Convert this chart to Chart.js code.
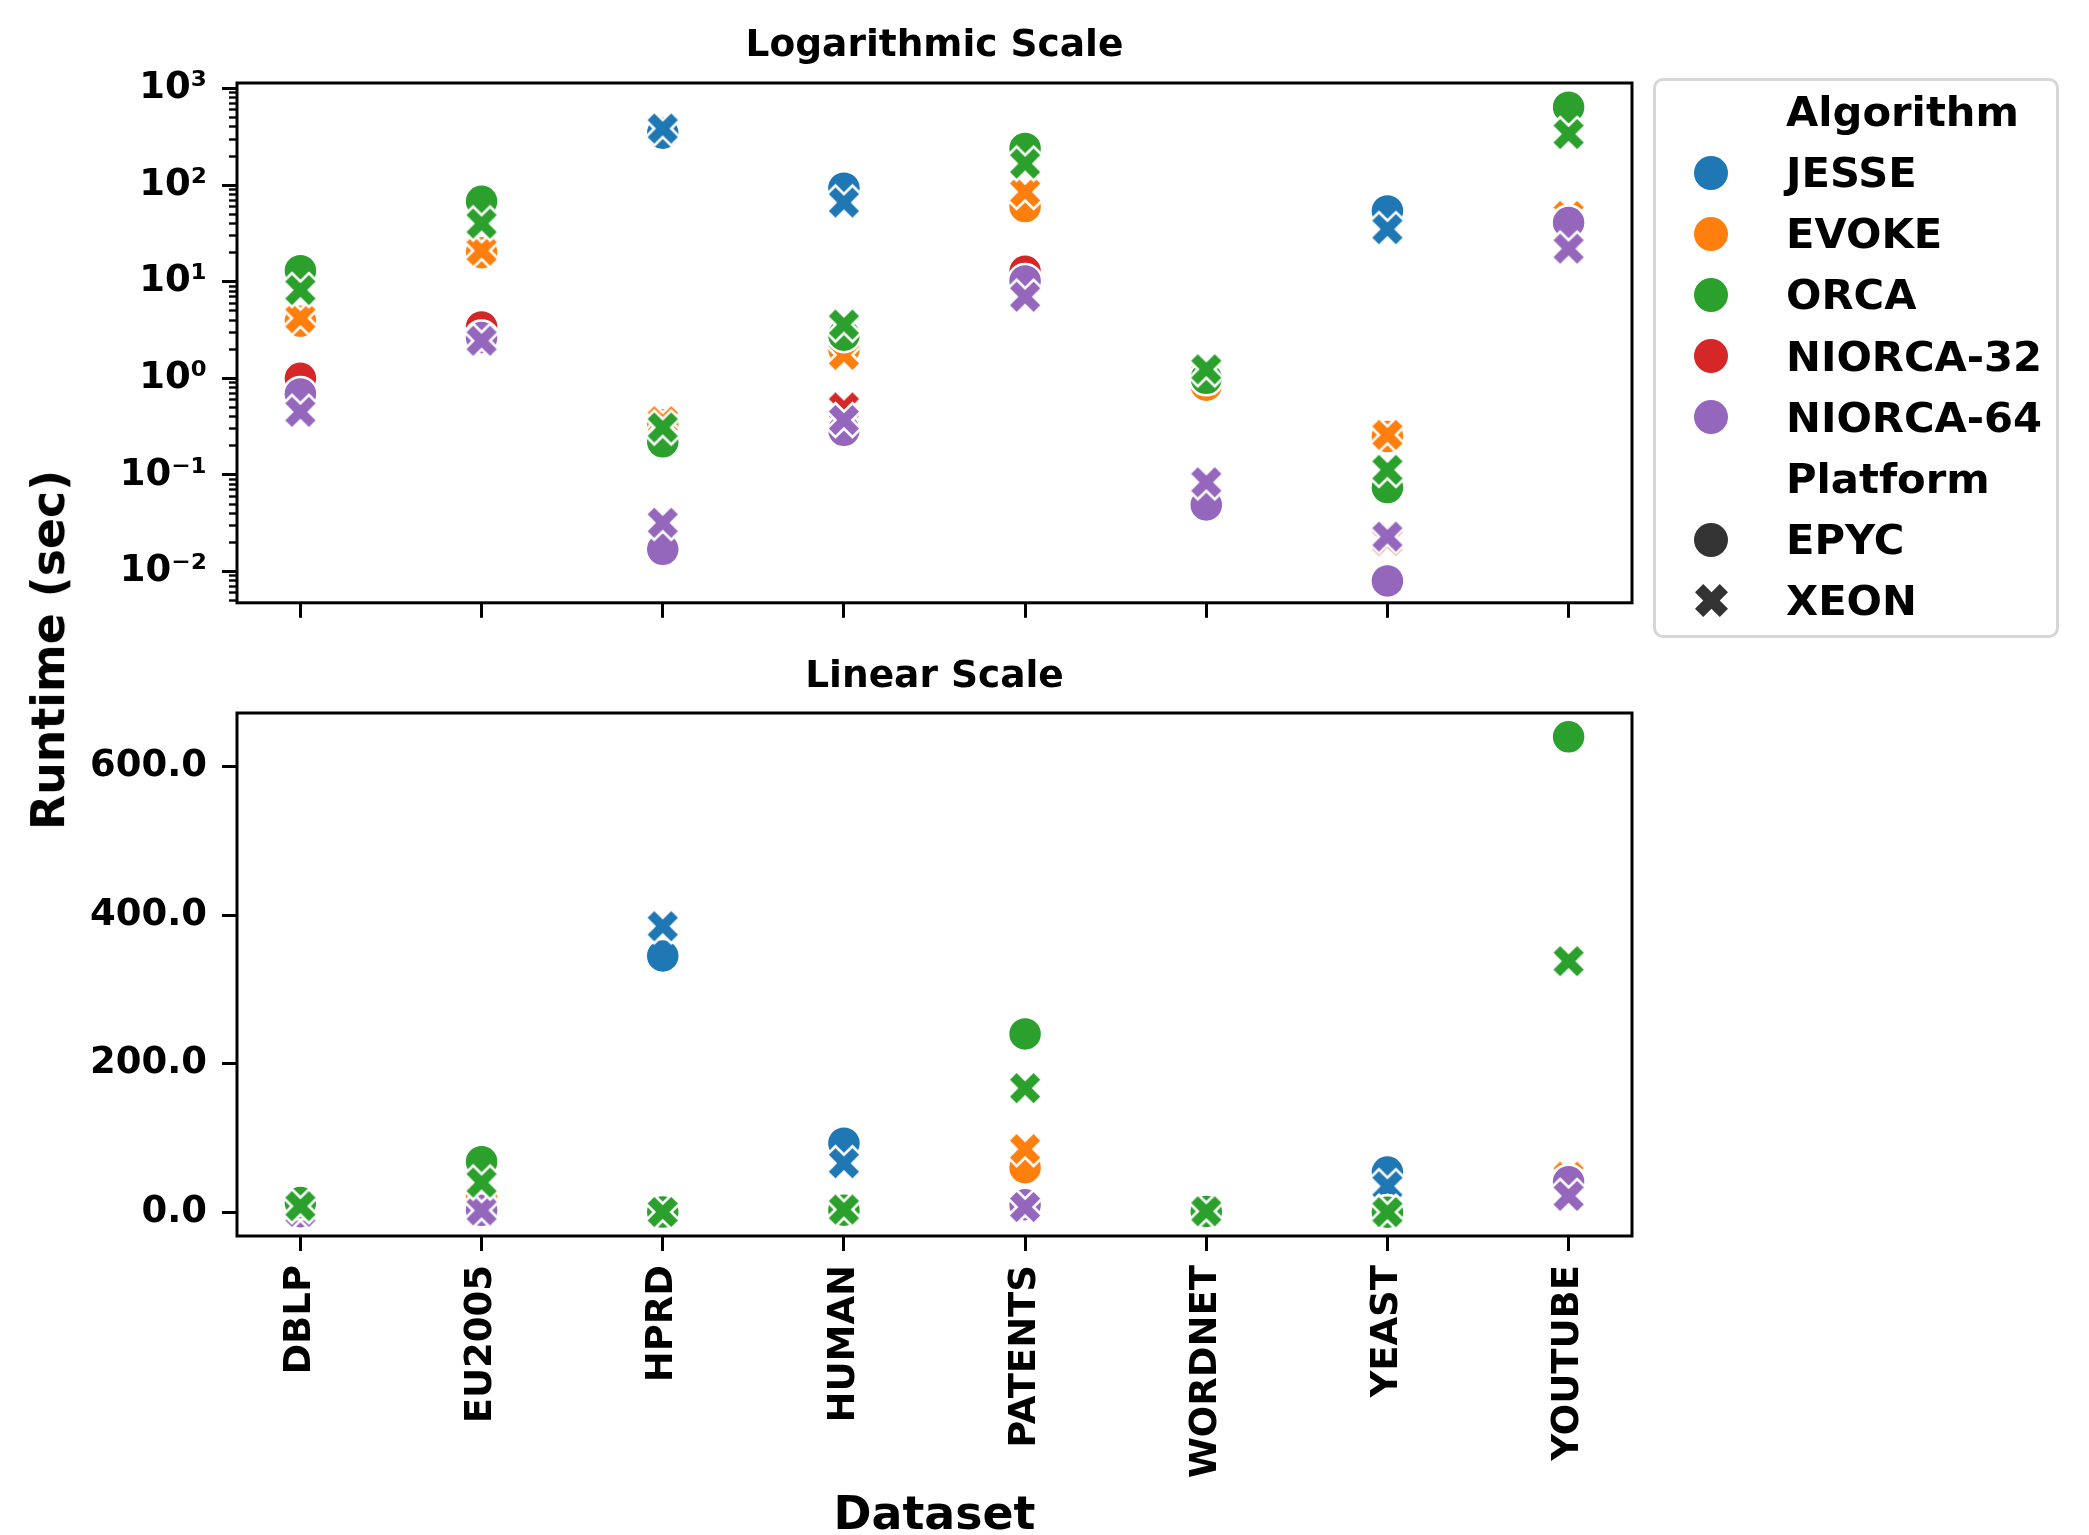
<!DOCTYPE html>
<html><head><meta charset="utf-8">
<script src="https://cdn.jsdelivr.net/npm/chart.js@4.4.1/dist/chart.umd.min.js"></script>
<style>
html,body{margin:0;padding:0;background:#fff;width:2089px;height:1535px;overflow:hidden;position:relative;}
canvas{position:absolute;left:0;}
#c1{top:0;}
#c2{top:640px;}
#ylab{position:absolute;left:49px;top:650px;font-family:'DejaVu Sans';font-weight:bold;font-size:45.8px;line-height:1;white-space:nowrap;transform:translate(-50%,-50%) rotate(-90deg);color:#000;}
#legendBox{position:absolute;left:1653px;top:78px;width:406px;height:560px;box-sizing:border-box;border:3px solid #d6d6d6;border-radius:10px;background:rgba(255,255,255,0.8);}
.lrow{position:absolute;font-family:'DejaVu Sans';font-weight:bold;font-size:41.7px;height:61px;line-height:61px;white-space:nowrap;color:#000;}
.lmark{position:absolute;}
</style></head>
<body>
<canvas id="c1" width="1700" height="640"></canvas>
<canvas id="c2" width="1700" height="895"></canvas>
<div id="ylab">Runtime (sec)</div>
<div id="legendBox"></div>
<script>
// ---------- data ----------
const categories = ['DBLP','EU2005','HPRD','HUMAN','PATENTS','WORDNET','YEAST','YOUTUBE'];
const algorithms = ['JESSE','EVOKE','ORCA','NIORCA-32','NIORCA-64'];
const algoColors = ['#1f77b4','#ff7f0e','#2ca02c','#d62728','#9467bd'];
const platforms = ['EPYC','XEON'];
const platformColor = '#333333';

const jesseEpyc    = [null, null, 345, 93, null, null, 54, null];
const jesseXeon    = [null, null, 385, 66, null, null, 35, null];
const evokeEpyc    = [3.9, 20, 0.33, 2.0, 60, 0.85, 0.25, 43];
const evokeXeon    = [4.2, 21, 0.36, 1.75, 85, 1.05, 0.26, 48];
const orcaEpyc     = [13, 68, 0.22, 2.8, 240, 1.0, 0.074, 640];
const orcaXeon     = [8.2, 40, 0.31, 3.6, 167, 1.24, 0.113, 338];
const niorca32Epyc = [1.0, 3.4, 0.017, 0.29, 12.8, 0.049, 0.008, 41];
const niorca32Xeon = [0.46, 2.45, 0.032, 0.5, 7.0, 0.08, 0.021, 22];
const niorca64Epyc = [0.69, 2.65, 0.017, 0.29, 10.2, 0.049, 0.008, 41];
const niorca64Xeon = [0.45, 2.45, 0.032, 0.37, 7.0, 0.084, 0.023, 22];

const logTickValues = [0.01, 0.1, 1, 10, 100, 1000];
const logTickLabels = ['10\u207B\u00B2','10\u207B\u00B9','10\u2070','10\u00B9','10\u00B2','10\u00B3'];
const linTickValues = [0, 200, 400, 600];
const linTickLabels = ['0.0','200.0','400.0','600.0'];

// drawing order (later = on top)
const series = [
  {algo:'EVOKE', platform:'EPYC', values: evokeEpyc},
  {algo:'EVOKE', platform:'XEON', values: evokeXeon},
  {algo:'JESSE', platform:'EPYC', values: jesseEpyc},
  {algo:'JESSE', platform:'XEON', values: jesseXeon},
  {algo:'NIORCA-32', platform:'EPYC', values: niorca32Epyc},
  {algo:'NIORCA-32', platform:'XEON', values: niorca32Xeon},
  {algo:'NIORCA-64', platform:'EPYC', values: niorca64Epyc},
  {algo:'NIORCA-64', platform:'XEON', values: niorca64Xeon},
  {algo:'ORCA', platform:'EPYC', values: orcaEpyc},
  {algo:'ORCA', platform:'XEON', values: orcaXeon}
];

// ---------- styling helpers ----------
const FONT = "'DejaVu Sans'";
Chart.defaults.font.family = FONT;
Chart.defaults.font.weight = 'bold';
Chart.defaults.color = '#000';

function makeX(color, size, lw) {
  const pad = 4;
  const S = size + 2 * pad;
  const c = document.createElement('canvas');
  c.width = S; c.height = S;
  const ctx = c.getContext('2d');
  const pts = [[-1,-2],[0,-1],[1,-2],[2,-1],[1,0],[2,1],[1,2],[0,1],[-1,2],[-2,1],[-1,0],[-2,-1]];
  ctx.translate(S / 2, S / 2);
  ctx.beginPath();
  pts.forEach(([a, b], i) => {
    const x = a / 4 * size, y = b / 4 * size;
    if (i) ctx.lineTo(x, y); else ctx.moveTo(x, y);
  });
  ctx.closePath();
  ctx.fillStyle = color;
  ctx.fill();
  if (lw > 0) {
    ctx.strokeStyle = '#ffffff';
    ctx.lineWidth = lw;
    ctx.lineJoin = 'miter';
    ctx.stroke();
  }
  return c;
}

const MARK = 34, EDGE = 2.5;
const xImages = {};
algorithms.forEach((a, i) => { xImages[a] = makeX(algoColors[i], MARK, EDGE); });

function buildDatasets() {
  return series.map((s, k) => {
    const color = algoColors[algorithms.indexOf(s.algo)];
    const data = s.values.map((v, i) => (v == null ? null : {x: i, y: v})).filter(p => p);
    const isX = s.platform === 'XEON';
    return {
      label: s.algo + ' ' + s.platform,
      data: data,
      order: -k,
      backgroundColor: color,
      borderColor: '#ffffff',
      pointBackgroundColor: color,
      pointBorderColor: '#ffffff',
      pointBorderWidth: EDGE,
      pointRadius: MARK / 2,
      pointHoverRadius: MARK / 2,
      pointStyle: isX ? xImages[s.algo] : 'circle'
    };
  });
}

const framePlugin = {
  id: 'frame',
  afterDraw(chart) {
    const {ctx, chartArea: a} = chart;
    ctx.save();
    ctx.strokeStyle = '#000';
    ctx.lineWidth = 3;
    ctx.strokeRect(a.left, a.top, a.right - a.left, a.bottom - a.top);
    ctx.restore();
  }
};

const tickGrid = (len, w) => ({display: true, drawOnChartArea: false, drawTicks: true, tickLength: len, tickWidth: w, tickColor: '#000'});
const tickFont = {family: FONT, size: 37, weight: 'bold'};

function xScale(showLabels, height) {
  return {
    type: 'linear', min: -0.35, max: 7.35, bounds: 'data',
    afterBuildTicks: s => { s.ticks = categories.map((_, i) => ({value: i})); },
    afterFit: s => { s.height = height; },
    grid: tickGrid(15, 3),
    border: {display: false},
    ticks: {
      display: showLabels, autoSkip: false, minRotation: 90, maxRotation: 90,
      padding: 14, color: '#000', font: tickFont,
      callback: (v, i) => categories[i]
    },
    title: showLabels ? {
      display: true, text: 'Dataset', color: '#000',
      font: {family: FONT, size: 45.8, weight: 'bold', lineHeight: 0.75},
      padding: {top: 0, bottom: 1}
    } : {display: false}
  };
}

// minor log ticks (tick marks only)
const LOG_MIN = 0.00475, LOG_MAX = 1140;
const minorTicks = [];
for (let e = -3; e <= 3; e++) {
  for (let m = 2; m <= 9; m++) {
    const v = m * Math.pow(10, e);
    if (v >= LOG_MIN && v <= LOG_MAX) minorTicks.push(v);
  }
}

const common = {
  responsive: false,
  animation: false,
  events: [],
  layout: {padding: {left: 0, right: 68, top: 0, bottom: 0}}
};

new Chart(document.getElementById('c1'), {
  type: 'scatter',
  data: {datasets: buildDatasets()},
  plugins: [framePlugin],
  options: Object.assign({}, common, {
    plugins: {
      legend: {display: false},
      tooltip: {enabled: false},
      title: {
        display: true, text: 'Logarithmic Scale', fullSize: false, color: '#000',
        font: {family: FONT, size: 37.5, weight: 'bold', lineHeight: 1.2},
        padding: {top: 24, bottom: 14}
      }
    },
    scales: {
      x: xScale(false, 33),
      y: {
        type: 'logarithmic', position: 'left', weight: 1,
        min: LOG_MIN, max: LOG_MAX, bounds: 'data',
        afterBuildTicks: s => { s.ticks = logTickValues.map(v => ({value: v, major: true})); },
        afterFit: s => { s.width = 237; },
        grid: tickGrid(15, 3),
        border: {display: false},
        ticks: {padding: 15, color: '#000', font: tickFont, callback: (v, i) => logTickLabels[i]}
      },
      yMinor: {
        type: 'logarithmic', position: 'left', weight: 0,
        min: LOG_MIN, max: LOG_MAX, bounds: 'data',
        afterBuildTicks: s => { s.ticks = minorTicks.map(v => ({value: v})); },
        afterFit: s => { s.width = 0; },
        grid: tickGrid(8, 2.4),
        border: {display: false},
        ticks: {display: false}
      }
    }
  })
});

new Chart(document.getElementById('c2'), {
  type: 'scatter',
  data: {datasets: buildDatasets()},
  plugins: [framePlugin],
  options: Object.assign({}, common, {
    plugins: {
      legend: {display: false},
      tooltip: {enabled: false},
      title: {
        display: true, text: 'Linear Scale', fullSize: false, color: '#000',
        font: {family: FONT, size: 37.5, weight: 'bold', lineHeight: 1.2},
        padding: {top: 14.5, bottom: 13.5}
      }
    },
    scales: {
      x: xScale(true, 299),
      y: {
        type: 'linear', position: 'left',
        min: -32, max: 672, bounds: 'data',
        afterBuildTicks: s => { s.ticks = linTickValues.map(v => ({value: v})); },
        afterFit: s => { s.width = 237; },
        grid: tickGrid(15, 3),
        border: {display: false},
        ticks: {padding: 15, color: '#000', font: tickFont, callback: (v, i) => linTickLabels[i]}
      }
    }
  })
});

// ---------- legend (HTML) ----------
const legendEntries = [{label: 'Algorithm', kind: 'head'}]
  .concat(algorithms.map((a, i) => ({label: a, kind: 'circle', color: algoColors[i]})))
  .concat([{label: 'Platform', kind: 'head'}])
  .concat(platforms.map((p, i) => ({label: p, kind: i === 0 ? 'circle' : 'x', color: platformColor})));

const ROW0 = 111.5, ROWSTEP = 61.15, MARKX = 1711, TEXTX = 1786;
legendEntries.forEach((e, i) => {
  const cy = ROW0 + i * ROWSTEP;
  const t = document.createElement('div');
  t.className = 'lrow';
  t.style.left = TEXTX + 'px';
  t.style.top = (cy - 30.5) + 'px';
  t.textContent = e.label;
  document.body.appendChild(t);
  if (e.kind === 'circle') {
    const m = document.createElement('div');
    m.className = 'lmark';
    m.style.left = (MARKX - 17) + 'px';
    m.style.top = (cy - 17) + 'px';
    m.style.width = '34px';
    m.style.height = '34px';
    m.style.borderRadius = '50%';
    m.style.background = e.color;
    document.body.appendChild(m);
  } else if (e.kind === 'x') {
    const c = makeX(e.color, 33, 0);
    c.className = 'lmark';
    c.style.left = (MARKX - c.width / 2) + 'px';
    c.style.top = (cy - c.height / 2) + 'px';
    document.body.appendChild(c);
  }
});
</script>
</body></html>
